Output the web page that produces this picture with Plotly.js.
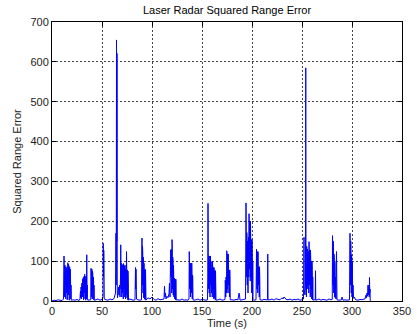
<!DOCTYPE html>
<html>
<head>
<meta charset="utf-8">
<script src="https://cdn.plot.ly/plotly-3.0.1.min.js"></script>
<style>html,body{margin:0;padding:0;background:#fff}#chart{width:417px;height:334px}</style>
</head>
<body>
<div id="chart"></div>
<script>
// Time samples (s)
const time = [
0,2,4,6,8,10,
11.5,11.75,12,12.25,12.5,12.75,13,13.25,13.5,13.75,14,14.25,14.5,14.75,15,15.25,15.5,15.75,16,16.25,16.5,16.75,17,17.25,17.5,17.75,18,18.25,18.5,18.75,19,19.25,
21,23,25,27,
28,28.25,28.5,28.75,29,29.25,29.5,29.75,30,30.25,30.5,30.75,31,31.25,31.5,31.75,32,32.25,32.5,32.75,33,33.25,33.5,33.75,34,34.25,34.5,34.75,35,35.25,35.5,35.75,
38.75,39,39.25,39.5,39.75,40,40.25,40.5,40.75,41,41.25,41.5,41.75,42,42.25,
44,46,48,50,
51,51.25,51.5,51.75,52,52.25,
54,56,58,60,62,
63.5,64,64.25,64.5,64.75,65,65.25,
65.5,66,66.5,67,67.5,68,68.5,68.75,
69,69.25,69.5,69.75,70,70.25,70.5,70.75,71,71.25,71.5,71.75,72,72.25,72.5,72.75,73,73.25,73.5,73.75,74,74.25,74.5,74.75,75,75.25,75.5,75.75,76,76.25,76.5,
77,
79,81,83,83.5,83.75,84,84.5,
86,88,
89.5,89.75,90,90.25,90.5,90.75,91,91.25,91.5,91.75,92,92.25,92.5,92.75,93,93.25,93.5,93.75,94,
96,98,100,102,104,106,108,110,
112,112.5,113,113.5,114,115,116,117,117.5,118,
118.5,118.75,119,119.25,119.5,119.75,120,120.25,120.5,120.75,121,121.25,121.5,121.75,122,122.25,122.5,122.75,123,123.25,123.5,123.75,124,124.25,124.5,
126,128,130,132,134,136,
137,137.25,137.5,137.75,138,138.25,138.5,138.75,139,139.25,139.5,139.75,140,140.25,140.5,140.75,141,142,
144,146,148,150,152,154,
155.5,155.75,156,156.25,156.5,156.75,157,157.25,157.5,157.75,158,158.25,158.5,158.75,159,159.25,159.5,159.75,160,160.25,160.5,160.75,161,161.25,161.5,161.75,162,162.25,162.5,162.75,163,163.25,163.5,163.75,164,164.25,164.5,
166,168,170,172,
173,173.25,173.5,173.75,174,174.25,174.5,174.75,175,175.25,175.5,175.75,176,176.25,176.5,176.75,177,177.25,177.5,177.75,178,178.25,
180,182,184,186,187,187.5,188,190,192,
193.5,193.75,194,194.25,194.5,194.75,195,195.25,195.5,195.75,196,196.25,196.5,196.75,197,197.25,197.5,197.75,198,198.25,198.5,198.75,199,199.25,199.5,199.75,200,200.25,200.5,200.75,201,201.25,201.5,
204,204.25,204.5,204.75,205,205.25,205.5,205.75,206,206.25,206.5,206.75,207,207.25,207.5,207.75,208,
210,212,214,215.5,215.75,216,
218,220,222,224,226,228,230,231,232,233,234,236,238,240,242,244,246,248,250,
251,251.5,252,252.25,252.5,253,253.5,253.75,254,254.5,
254.75,255,255.25,255.5,255.75,256,256.25,256.5,256.75,257,257.25,257.5,257.75,258,258.25,258.5,258.75,259,259.25,259.5,259.75,260,260.25,260.5,260.75,261,
262,263.25,263.5,263.75,
265,267,269,271,273,275,277,279,
280.25,280.5,280.75,281,281.25,281.5,281.75,282,282.25,282.5,282.75,283,283.25,283.5,283.75,284,284.25,284.5,284.75,285,
287,289.5,290,290.5,291,293,295,
297.5,297.75,298,298.25,298.5,298.75,299,299.25,299.5,299.75,300,300.25,300.5,300.75,301,301.25,301.5,302,302.5,303,304,
306,308,310,312,
313,313.5,314,314.5,315,315.5,316,316.25,316.5,316.75,317,317.25,317.5,317.75,318,318.25,318.5
];
// Squared range error
const squaredError = [
0,2,1,3,2,1,
5,60,113,80,10,88,90,40,85,5,86,70,20,82,80,3,60,96,90,15,92,88,50,2,86,84,30,80,60,5,40,2,
3,2,4,1,
5,18,25,8,35,30,5,42,45,10,50,55,12,58,3,61,55,20,64,67,5,62,40,2,60,30,5,116,20,40,8,2,
3,82,60,10,80,78,5,75,70,30,52,60,3,40,2,
3,5,2,4,
10,145,60,127,90,5,
3,2,5,3,6,
20,170,40,655,150,621,30,
8,20,35,15,40,10,60,141,
30,95,90,10,92,88,20,90,86,5,94,90,30,88,85,10,90,70,5,80,60,15,124,75,8,78,70,3,75,50,2,
5,
4,2,3,84,30,80,5,
3,2,
3,100,158,40,137,120,20,110,100,8,95,60,5,79,50,3,79,40,2,
8,5,10,4,2,6,3,4,
5,37,10,20,5,12,8,19,45,10,
100,128,60,130,120,20,154,141,30,110,100,15,90,60,10,55,57,5,55,50,3,55,50,2,3,
3,2,5,2,3,2,
5,124,95,30,95,90,10,65,95,60,20,95,65,5,65,60,3,2,
3,5,2,4,3,2,
3,60,245,122,30,113,110,20,113,84,10,84,113,40,84,80,20,99,95,10,99,84,30,84,80,5,84,76,8,76,50,3,76,40,2,3,2,
3,5,2,3,
4,52,40,10,60,55,20,126,118,30,118,100,20,118,78,40,78,70,10,78,60,3,
3,2,4,3,20,15,2,3,4,
5,120,246,172,60,172,165,40,150,140,20,140,160,60,219,200,80,200,190,50,200,154,60,154,150,20,154,100,10,100,5,3,2,
3,60,130,86,30,124,110,20,124,86,40,86,80,10,86,60,3,
2,4,3,3,118,3,
3,5,2,6,4,3,8,5,10,8,4,3,5,2,4,3,5,2,3,
4,5,160,30,20,15,40,585,30,10,
137,100,30,130,124,40,124,110,20,149,128,40,128,120,10,128,100,30,100,90,5,100,76,3,60,2,
3,3,76,2,
3,5,2,4,3,2,5,3,
4,164,120,40,150,118,20,118,110,10,100,90,8,60,50,5,90,124,60,3,
2,3,10,5,2,3,2,
3,100,170,116,40,150,116,20,116,110,10,100,60,5,40,20,10,8,10,5,3,
2,4,3,5,
5,10,15,8,20,12,40,25,30,15,40,10,59,20,30,2,0
];
const xTicks = [0,50,100,150,200,250,300,350];
const yTicks = [0,100,200,300,400,500,600,700];

const font = {family: 'Liberation Sans, Arial, sans-serif', size: 11, color: '#222'};
const axisCommon = {
  showline: true, linecolor: '#000', linewidth: 1, mirror: 'allticks',
  ticks: 'inside', ticklen: 4, tickcolor: '#000', tickwidth: 1,
  showgrid: true, gridcolor: '#444', gridwidth: 1, griddash: '2px,2px',
  zeroline: false, tickfont: font
};
Plotly.newPlot('chart', [{
  x: time, y: squaredError, type: 'scatter', mode: 'lines',
  line: {color: '#0000ff', width: 1, simplify: false}, hoverinfo: 'skip'
}], {
  width: 417, height: 334,
  margin: {l: 52, r: 15, t: 22, b: 33, pad: 0},
  paper_bgcolor: '#fff', plot_bgcolor: '#fff',
  showlegend: false,
  font: font,
  title: {text: 'Laser Radar Squared Range Error', font: {family: font.family, size: 11, color: '#000'},
          x: 0.5, xref: 'paper', xanchor: 'center', y: 0.97, yref: 'container', yanchor: 'middle'},
  xaxis: Object.assign({}, axisCommon, {range: [0, 350], tickvals: xTicks, ticktext: xTicks.map(String),
          title: {text: 'Time (s)', font: font, standoff: 2}}),
  yaxis: Object.assign({}, axisCommon, {range: [0, 700], tickvals: yTicks, ticktext: yTicks.map(String),
          title: {text: 'Squared Range Error', font: font, standoff: 6}})
}, {staticPlot: true, displayModeBar: false});
</script>
</body>
</html>
